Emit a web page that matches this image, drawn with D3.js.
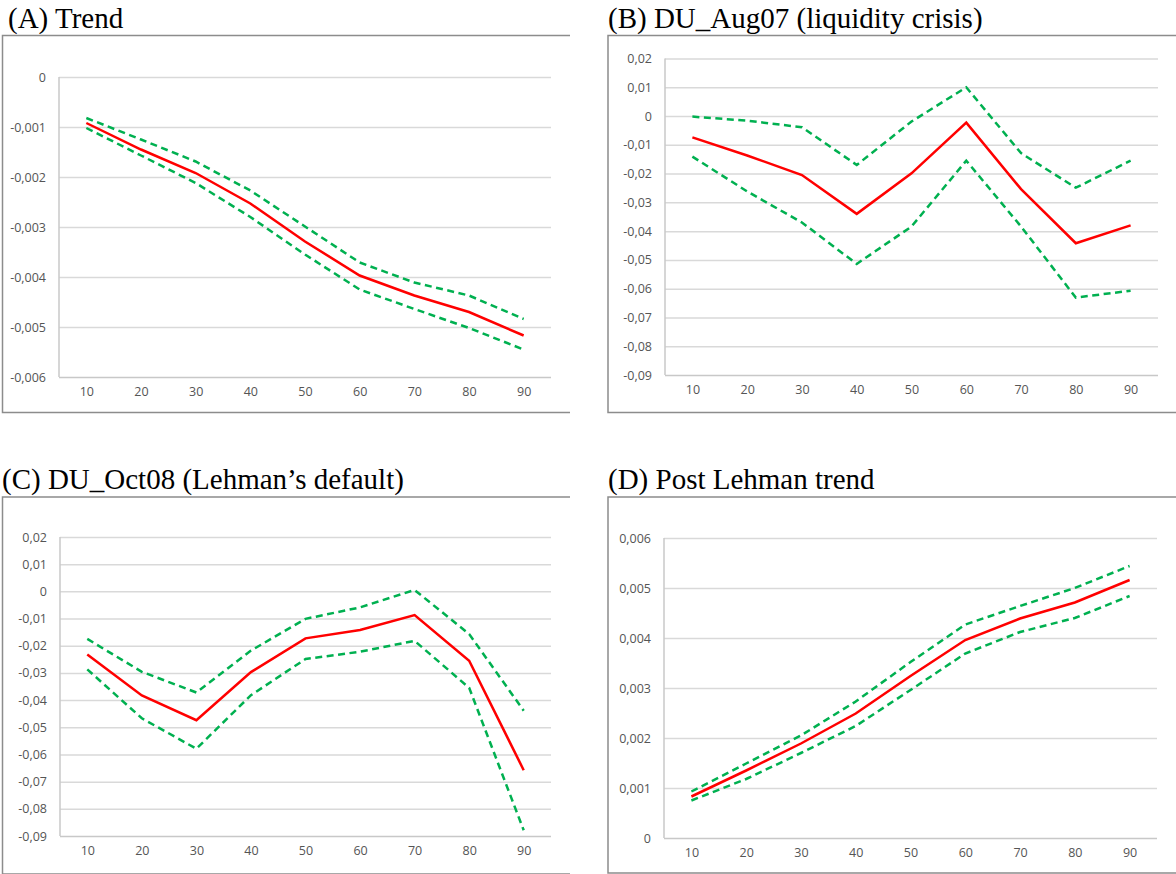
<!DOCTYPE html>
<html>
<head>
<meta charset="utf-8">
<script src="https://cdn.jsdelivr.net/npm/d3@7"></script>
<style>
  body { margin: 0; background: #fff; }
  .title { font-family: "Liberation Serif", "Times New Roman", serif; font-size: 29px; fill: #000; }
  .tick text { font-family: "Open Sans", sans-serif; font-size: 12.5px; fill: #555; }
</style>
</head>
<body>
<div id="plot"></div>
<script>
// percentiles on the x axis, shared by all four panels
const quantiles = [10, 20, 30, 40, 50, 60, 70, 80, 90];

// (A) Trend
const trendMid = [-0.00092, -0.00145, -0.00192, -0.00253, -0.00329, -0.00397, -0.00437, -0.00470, -0.00517];
const trendHi  = [-0.00082, -0.00125, -0.00169, -0.00227, -0.00299, -0.00371, -0.00411, -0.00437, -0.00484];
const trendLo  = [-0.00102, -0.00157, -0.00212, -0.00280, -0.00355, -0.00425, -0.00464, -0.00502, -0.00545];
const trendTicks = [0, -0.001, -0.002, -0.003, -0.004, -0.005, -0.006];

// (B) DU_Aug07
const aug07Mid = [-0.0074, -0.0137, -0.0205, -0.0340, -0.0199, -0.0023, -0.0254, -0.0442, -0.0380];
const aug07Hi  = [-0.0002, -0.0016, -0.0039, -0.0170, -0.0019, 0.0100, -0.0129, -0.0249, -0.0155];
const aug07Lo  = [-0.0141, -0.0262, -0.0370, -0.0514, -0.0384, -0.0155, -0.0384, -0.0631, -0.0607];
const crisisTicks = [0.02, 0.01, 0, -0.01, -0.02, -0.03, -0.04, -0.05, -0.06, -0.07, -0.08, -0.09];

// (C) DU_Oct08
const oct08Mid = [-0.0232, -0.0383, -0.0474, -0.0297, -0.0173, -0.0142, -0.0087, -0.0255, -0.0658];
const oct08Hi  = [-0.0175, -0.0296, -0.0372, -0.0218, -0.0101, -0.0059, 0.0005, -0.0157, -0.0439];
const oct08Lo  = [-0.0287, -0.0467, -0.0579, -0.0382, -0.0249, -0.0222, -0.0182, -0.0355, -0.0879];

// (D) Post Lehman trend
const postMid = [0.00083, 0.00135, 0.00189, 0.00249, 0.00324, 0.00396, 0.00439, 0.00471, 0.00516];
const postHi  = [0.00093, 0.00149, 0.00205, 0.00273, 0.00352, 0.00427, 0.00464, 0.00500, 0.00544];
const postLo  = [0.00075, 0.00118, 0.00170, 0.00224, 0.00296, 0.00369, 0.00412, 0.00440, 0.00484];
const postTicks = [0, 0.001, 0.002, 0.003, 0.004, 0.005, 0.006];

const titles = ["(A) Trend", "(B) DU_Aug07 (liquidity crisis)", "(C) DU_Oct08 (Lehman\u2019s default)", "(D) Post Lehman trend"];

const locale = d3.formatLocale({ decimal: ",", thousands: ".", grouping: [3], currency: ["", ""], minus: "-" });
const fmt3 = v => v === 0 ? "0" : locale.format(".3f")(v);
const fmt2 = v => v === 0 ? "0" : locale.format(".2f")(v);

const panels = [
  { title: titles[0], mid: trendMid, hi: trendHi, lo: trendLo, ticks: trendTicks, fmt: fmt3,
    box: [2.5, 35.5, 570, 412.5], tx: 8, ty: 28, plot: { left: 59, right: 551, top: 77, bottom: 377 } },
  { title: titles[1], mid: aug07Mid, hi: aug07Hi, lo: aug07Lo, ticks: crisisTicks, fmt: fmt2,
    box: [608, 35.5, 1180, 412.5], tx: 608, ty: 28, plot: { left: 665, right: 1158, top: 58.5, bottom: 375 } },
  { title: titles[2], mid: oct08Mid, hi: oct08Hi, lo: oct08Lo, ticks: crisisTicks, fmt: fmt2,
    box: [2.5, 497, 570, 874], tx: 2, ty: 489, plot: { left: 60, right: 551, top: 537, bottom: 836 } },
  { title: titles[3], mid: postMid, hi: postHi, lo: postLo, ticks: postTicks, fmt: fmt3,
    box: [608, 497, 1180, 873], tx: 608, ty: 489, plot: { left: 664, right: 1157, top: 538, bottom: 838 } }
];

const svg = d3.select("div#plot").append("svg")
    .attr("width", 1176)
    .attr("height", 874);

panels.forEach(p => {
  const g = svg.append("g");
  const [x0, y0, x1, y1] = p.box;

  g.append("text").attr("class", "title")
    .attr("x", p.tx).attr("y", p.ty)
    .text(p.title);

  // frame: left, top, bottom (right side is cut off in the source)
  g.append("path")
    .attr("d", `M${x1},${y0}H${x0}V${y1}H${x1}`)
    .attr("fill", "none")
    .attr("stroke", "#8c8c8c")
    .attr("stroke-width", 1.5);

  const x = d3.scalePoint()
      .domain(quantiles)
      .range([p.plot.left, p.plot.right])
      .padding(0.5);

  const y = d3.scaleLinear()
      .domain(d3.extent(p.ticks))
      .range([p.plot.bottom, p.plot.top]);

  // gridlines + y labels
  const yAxis = g.append("g")
      .attr("transform", `translate(${p.plot.left},0)`)
      .call(d3.axisLeft(y).tickValues(p.ticks).tickFormat(p.fmt)
              .tickSize(-(p.plot.right - p.plot.left)).tickPadding(13));
  yAxis.select(".domain").remove();
  yAxis.selectAll(".tick line").attr("stroke", "#d9d9d9").attr("stroke-width", 1.5);
  yAxis.selectAll(".tick")
      .filter(d => d === y.domain()[0])
      .select("line").attr("stroke", "#c8c8c8");

  // left axis line
  g.append("line")
      .attr("x1", p.plot.left).attr("x2", p.plot.left)
      .attr("y1", p.plot.top).attr("y2", p.plot.bottom)
      .attr("stroke", "#c8c8c8").attr("stroke-width", 1.5);

  // x labels
  const xAxis = g.append("g")
      .attr("transform", `translate(0,${p.plot.bottom})`)
      .call(d3.axisBottom(x).tickSize(0).tickPadding(10));
  xAxis.select(".domain").remove();

  const line = d3.line()
      .x((d, i) => x(quantiles[i]))
      .y(d => y(d));

  [p.hi, p.lo].forEach(s => {
    g.append("path")
      .datum(s)
      .attr("d", line)
      .attr("fill", "none")
      .attr("stroke", "#00b050")
      .attr("stroke-width", 2.5)
      .attr("stroke-dasharray", "7,4.5");
  });

  g.append("path")
    .datum(p.mid)
    .attr("d", line)
    .attr("fill", "none")
    .attr("stroke", "#ff0000")
    .attr("stroke-width", 2.5);
});
</script>
</body>
</html>
